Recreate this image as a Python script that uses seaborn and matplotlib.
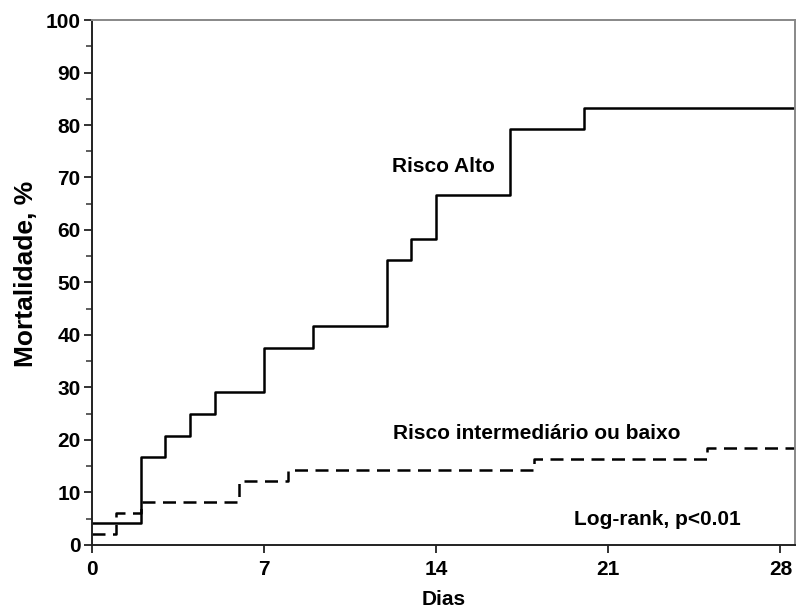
import matplotlib
matplotlib.use("Agg")
import matplotlib.pyplot as plt
import seaborn as sns
import pandas as pd
from matplotlib.ticker import MultipleLocator, FixedLocator

sns.set_theme(style="ticks")
plt.rcParams['font.family'] = ['Liberation Sans', 'DejaVu Sans']
plt.rcParams['font.weight'] = 'bold'
plt.rcParams['text.color'] = 'black'
plt.rcParams['axes.labelcolor'] = 'black'
plt.rcParams['xtick.labelcolor'] = 'black'
plt.rcParams['ytick.labelcolor'] = 'black'

# Data (days, cumulative mortality %)
high_days = [0, 2, 3, 4, 5, 7, 9, 12, 13, 14, 17, 20, 28.6]
high_mort = [4.2, 16.7, 20.8, 25.0, 29.2, 37.5, 41.7, 54.2, 58.3, 66.7, 79.2, 83.3, 83.3]
low_days = [0, 1, 2, 6, 8, 18, 25, 28.6]
low_mort = [2.0, 6.1, 8.2, 12.2, 14.3, 16.3, 18.4, 18.4]
x_ticks = [0, 7, 14, 21, 28]
y_ticks = list(range(0, 101, 10))

df_high = pd.DataFrame({"Dias": high_days, "Mortalidade": high_mort})
df_low = pd.DataFrame({"Dias": low_days, "Mortalidade": low_mort})

fig = plt.figure(figsize=(7.96, 6.10), dpi=100)
ax = fig.add_axes([0.1152, 0.1066, 0.8838, 0.8606])

sns.lineplot(data=df_high, x="Dias", y="Mortalidade", ax=ax, drawstyle="steps-post",
             color="black", linewidth=1.8, estimator=None)
sns.lineplot(data=df_low, x="Dias", y="Mortalidade", ax=ax, drawstyle="steps-post",
             color="black", linewidth=1.8, estimator=None, dashes=False)
ax.lines[1].set_dashes([5.2, 3.0])

ax.set_xlim(0, 28.6)
ax.set_ylim(0, 100)
ax.xaxis.set_major_locator(FixedLocator(x_ticks))
ax.yaxis.set_major_locator(FixedLocator(y_ticks))
ax.yaxis.set_minor_locator(MultipleLocator(5))
ax.tick_params(axis="both", which="major", direction="out", length=6, width=1.3,
               labelsize=15, color="#222222", labelcolor="black")
ax.tick_params(axis="x", which="major", pad=5)
ax.tick_params(axis="y", which="major", pad=2)
ax.tick_params(axis="y", which="minor", direction="out", length=4, width=1.1, color="#333333")
for lab in ax.get_xticklabels() + ax.get_yticklabels():
    lab.set_fontweight("bold")

for s in ["left", "bottom"]:
    ax.spines[s].set_color("#222222")
    ax.spines[s].set_linewidth(1.4)
for s in ["top", "right"]:
    ax.spines[s].set_visible(True)
    ax.spines[s].set_color("#888888")
    ax.spines[s].set_linewidth(1.4)

ax.set_xlabel("Dias", fontsize=15, fontweight="bold", color="black")
ax.set_ylabel("Mortalidade, %", fontsize=19, fontweight="bold", color="black")
ax.xaxis.set_label_coords(0.5, -0.085)
ax.yaxis.set_label_coords(-0.077, 0.516)

ax.text(14.3, 72, "Risco Alto", fontsize=15, fontweight="bold", ha="center", va="center")
ax.text(18.1, 21.3, "Risco intermediário ou baixo", fontsize=15, fontweight="bold",
        ha="center", va="center")
ax.text(23.0, 4.8, "Log-rank, p<0.01", fontsize=15, fontweight="bold",
        ha="center", va="center")

fig.savefig("out.png", dpi=100)
